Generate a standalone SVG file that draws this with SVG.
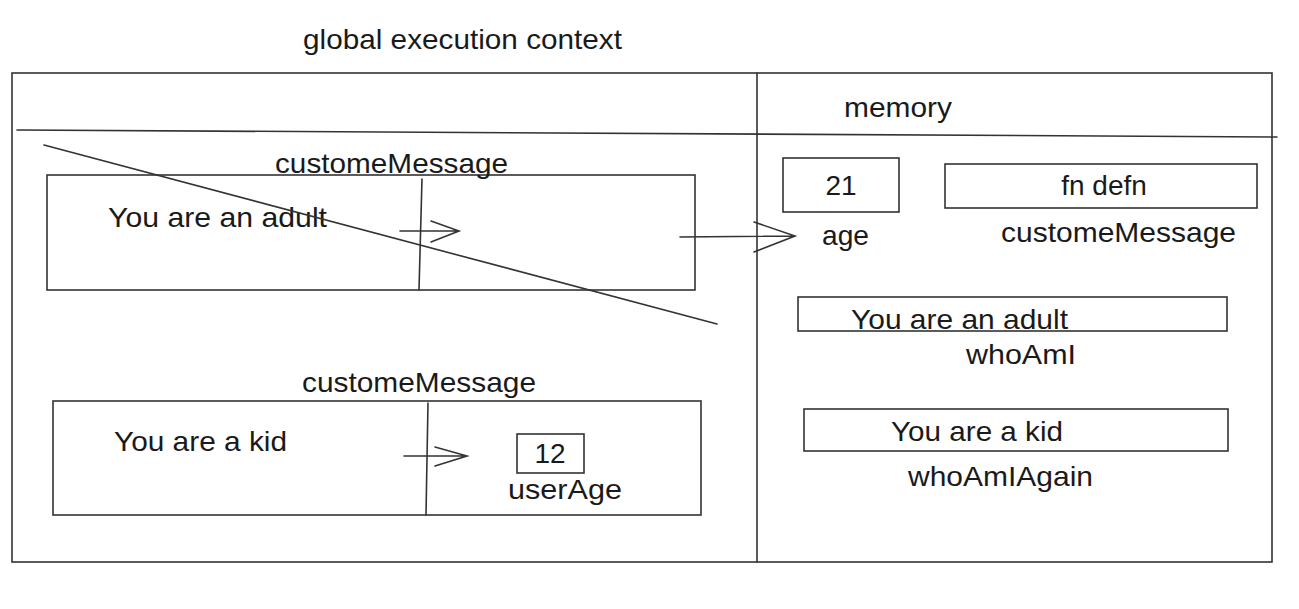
<svg xmlns="http://www.w3.org/2000/svg" width="1299" height="609" viewBox="0 0 1299 609">
<style>
.s{fill:none;stroke:#333;stroke-width:1.6;stroke-linecap:round}
.t{font-family:"Liberation Sans",Arial,sans-serif;font-size:28px;fill:#1a1a1a}
.m{text-anchor:middle}
</style>
<rect width="1299" height="609" fill="#fff"/>
<g id="title"><text class="t" x="303" y="49" textLength="319" lengthAdjust="spacingAndGlyphs">global execution context</text></g>
<g id="frame">
<rect class="s" x="12" y="73" width="1260" height="489"/>
<line class="s" x1="757" y1="73" x2="757" y2="562"/>
<line class="s" x1="17" y1="130" x2="1277" y2="137"/>
<text class="t" x="844" y="117" textLength="108" lengthAdjust="spacingAndGlyphs">memory</text>
</g>
<g id="ctx-adult">
<rect class="s" x="47" y="175" width="648" height="115"/>
<line class="s" x1="422" y1="179" x2="419" y2="290"/>
<text class="t" x="275" y="173" textLength="233" lengthAdjust="spacingAndGlyphs">customeMessage</text>
<text class="t" x="108" y="227" textLength="219" lengthAdjust="spacingAndGlyphs">You are an adult</text>
</g>
<g id="strike"><line class="s" x1="44" y1="145" x2="717" y2="324"/></g>
<g id="ctx-kid">
<rect class="s" x="53" y="401" width="648" height="114"/>
<line class="s" x1="428" y1="403" x2="426" y2="515"/>
<text class="t" x="302" y="392" textLength="234" lengthAdjust="spacingAndGlyphs">customeMessage</text>
<text class="t" x="114" y="451" textLength="173" lengthAdjust="spacingAndGlyphs">You are a kid</text>
</g>
<g id="userAge">
<rect class="s" x="517" y="434" width="67" height="39"/>
<text class="t m" x="550" y="463">12</text>
<text class="t" x="508" y="499" textLength="114" lengthAdjust="spacingAndGlyphs">userAge</text>
</g>
<g id="mem-age">
<rect class="s" x="783" y="158" width="116" height="54"/>
<text class="t m" x="841" y="195">21</text>
<text class="t" x="822" y="245" textLength="47" lengthAdjust="spacingAndGlyphs">age</text>
</g>
<g id="mem-customeMessage">
<rect class="s" x="945" y="164" width="312" height="44"/>
<text class="t m" x="1104" y="195">fn defn</text>
<text class="t" x="1001" y="242" textLength="235" lengthAdjust="spacingAndGlyphs">customeMessage</text>
</g>
<g id="mem-whoAmI">
<rect class="s" x="798" y="297" width="429" height="34"/>
<text class="t" x="851" y="329" textLength="217" lengthAdjust="spacingAndGlyphs">You are an adult</text>
<text class="t" x="966" y="364" textLength="110" lengthAdjust="spacingAndGlyphs">whoAmI</text>
</g>
<g id="mem-whoAmIAgain">
<rect class="s" x="804" y="409" width="424" height="42"/>
<text class="t" x="891" y="441" textLength="172" lengthAdjust="spacingAndGlyphs">You are a kid</text>
<text class="t" x="908" y="486" textLength="185" lengthAdjust="spacingAndGlyphs">whoAmIAgain</text>
</g>
<g id="connectors">
<path class="s" d="M400 231H459M431 221L459 231L431 242"/>
<path class="s" d="M680 237L795 236M754 222L795 236L754 252"/>
<path class="s" d="M404 456H467M435 447L467 456L435 466"/>
</g>
</svg>
